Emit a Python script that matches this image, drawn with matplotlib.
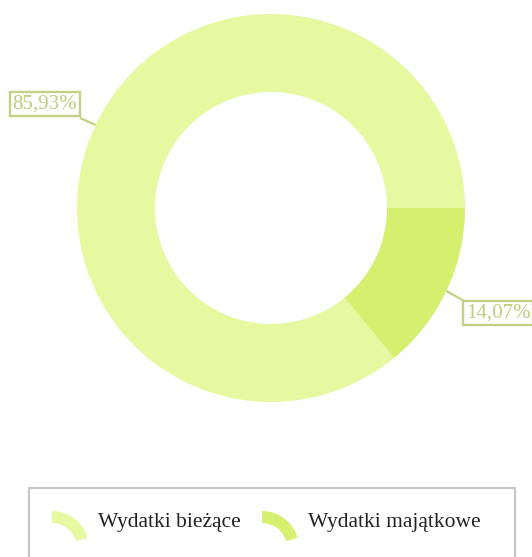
import matplotlib
matplotlib.use("Agg")
import matplotlib.pyplot as plt
import numpy as np
from matplotlib.patches import Rectangle, Wedge

# data
categories = ["Wydatki bieżące", "Wydatki majątkowe"]
shares = [85.93, 14.07]
colors = ["#e6f8a0", "#d4f06e"]

W, H = 532, 557
fig = plt.figure(figsize=(W / 100, H / 100), dpi=100)
ax = fig.add_axes([0, 0, 1, 1])

cx, cy, r = 271, H - 208, 194
wedges, _ = ax.pie(shares, colors=colors, startangle=0, counterclock=True,
                   center=(cx, cy), radius=r,
                   wedgeprops=dict(width=78, linewidth=0),
                   frame=True)
ax.set_xlim(0, W)
ax.set_ylim(0, H)
ax.set_aspect("equal")
ax.axis("off")

# percentage labels with leader lines
label_pos = [(45, H - 104), (498, H - 313)]
line_end = [(80, H - 118), (466, H - 302)]
for w, val, (tx, ty), (lx, ly) in zip(wedges, shares, label_pos, line_end):
    ang = np.deg2rad((w.theta1 + w.theta2) / 2)
    px, py = cx + r * np.cos(ang), cy + r * np.sin(ang)
    ax.plot([px, lx], [py, ly], color="#c2d183", lw=1.6, solid_capstyle="butt")
    ax.text(tx, ty, f"{val:.2f}%".replace(".", ","), ha="center", va="center",
            fontsize=15, family="Liberation Serif", color="#bccf7a",
            bbox=dict(boxstyle="square,pad=0.13", fc="white", ec="#c2d183", lw=1.7))

# legend
ax.add_patch(Rectangle((29, -20), 486, H - 488 + 20, fc="white", ec="#c8c8c8", lw=1.6))
marker_x = [52, 262]
text_x = [98, 308]
for mx, tx, lab, c in zip(marker_x, text_x, categories, colors):
    ax.add_patch(Wedge((mx, H - 548), 37, 16, 90, width=12, fc=c, ec="none"))
    ax.text(tx, H - 523, lab, ha="left", va="center", fontsize=15.5,
            family="Liberation Serif", color="#222222")

fig.savefig("out.png", dpi=100)
